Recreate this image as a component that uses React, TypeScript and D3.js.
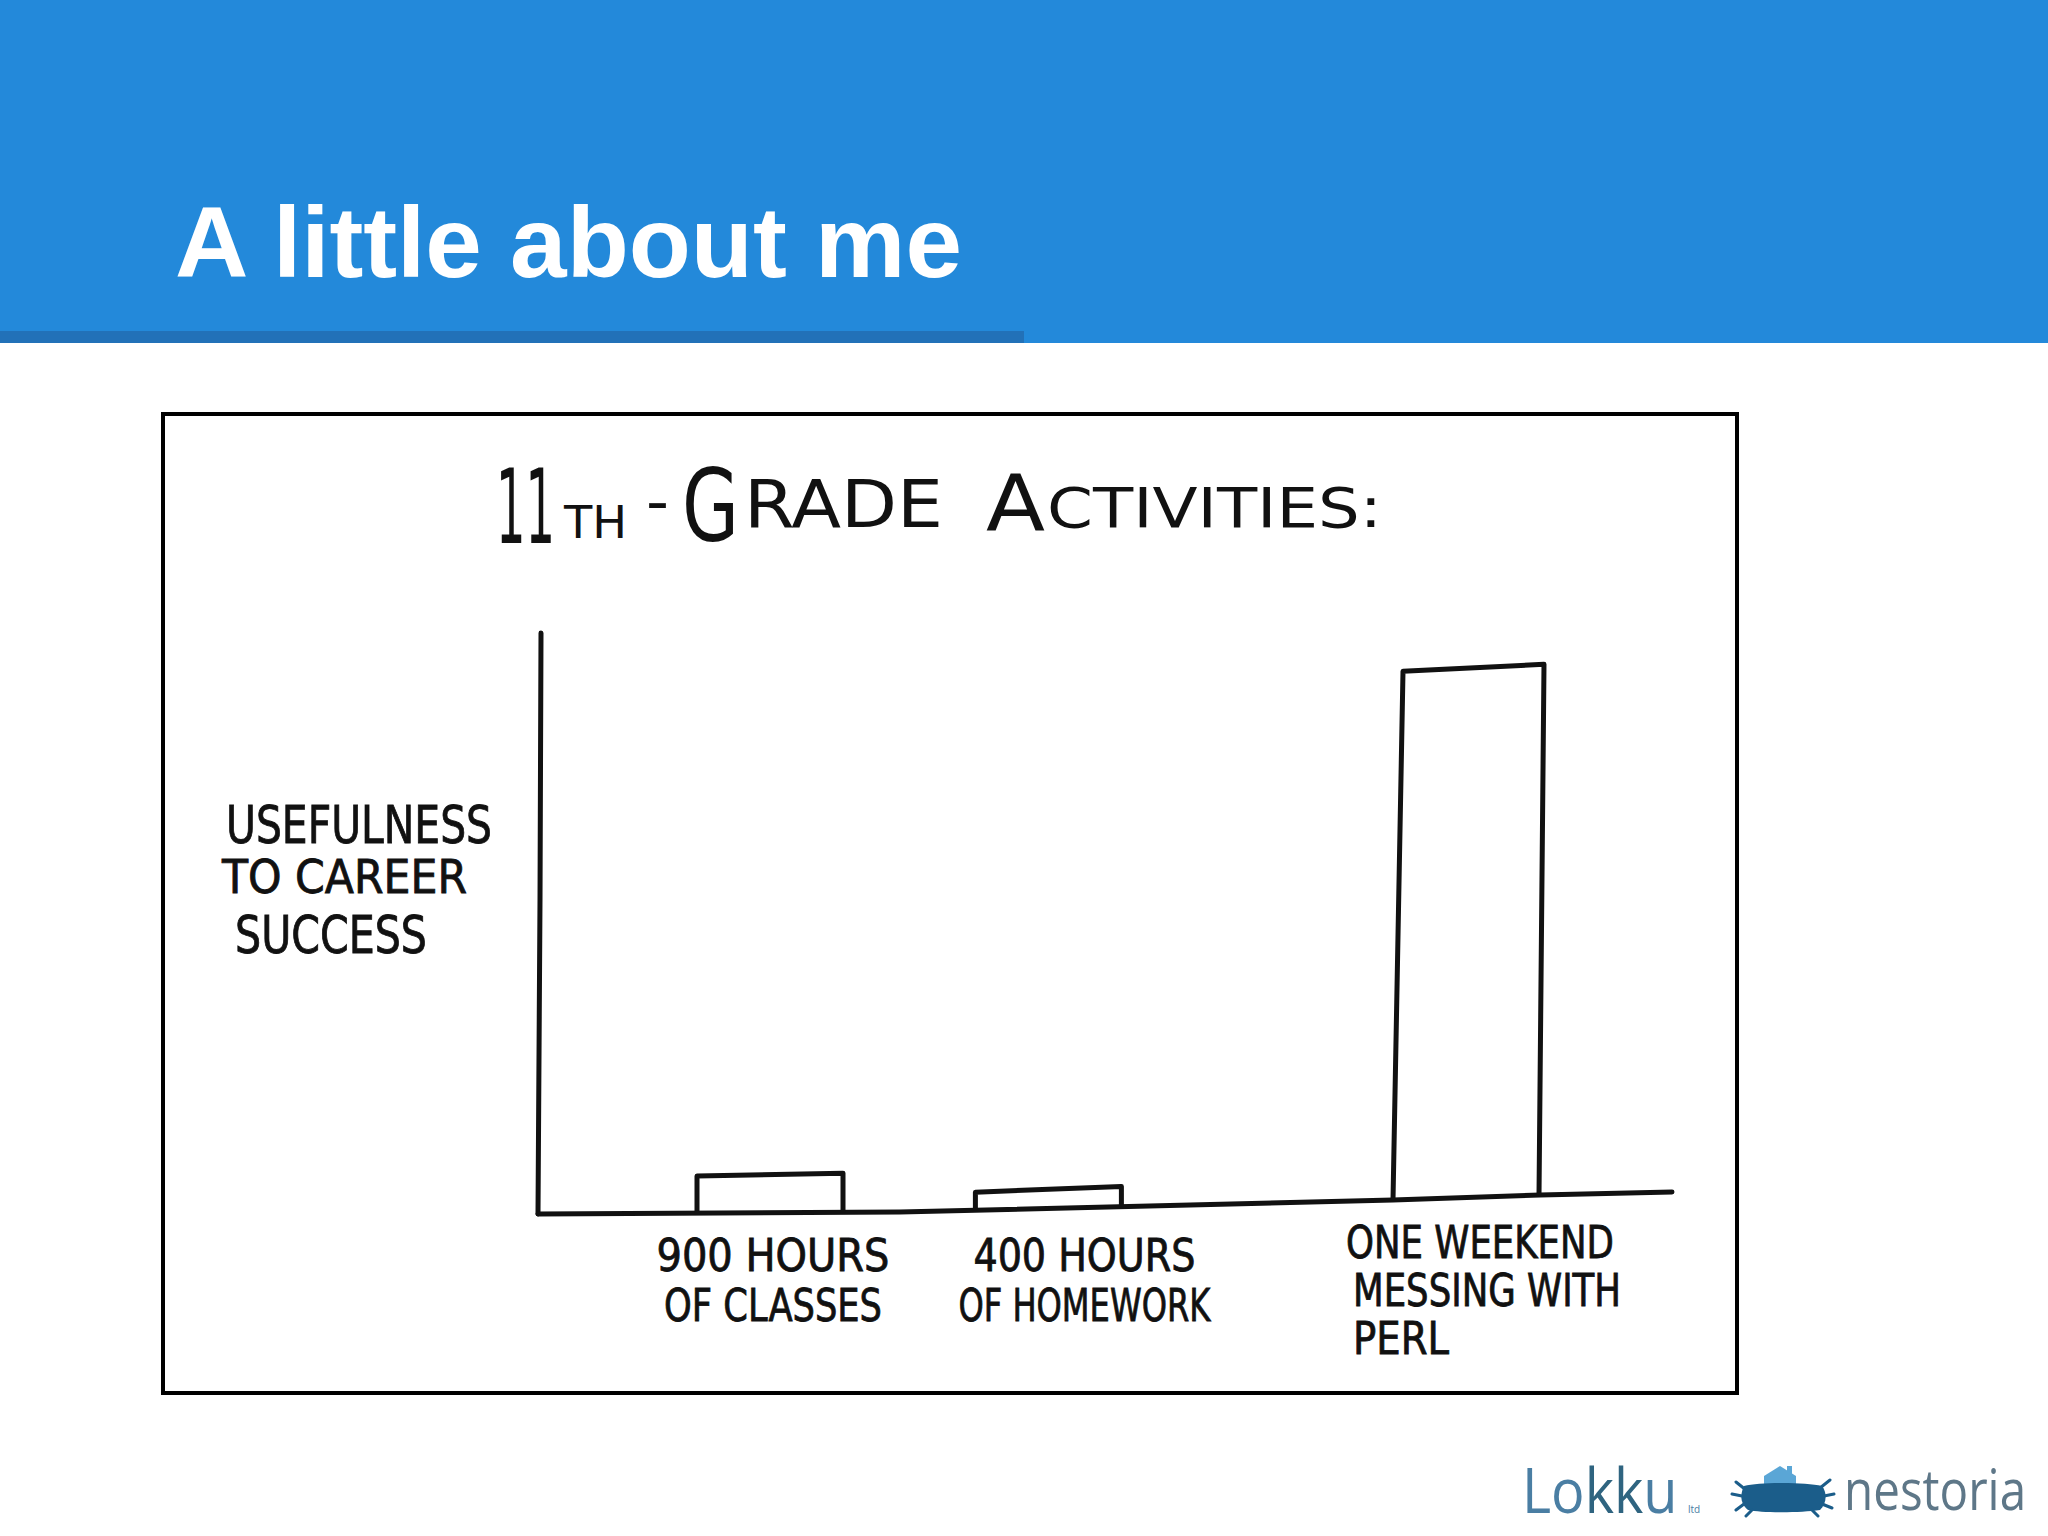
import React from "react";
import * as d3 from "d3";

// ---- data ----
const categories = [
  "900 HOURS OF CLASSES",
  "400 HOURS OF HOMEWORK",
  "ONE WEEKEND MESSING WITH PERL",
];
const categoryLines = [
  ["900 HOURS", "OF CLASSES"],
  ["400 HOURS", "OF HOMEWORK"],
  ["ONE WEEKEND", "MESSING WITH", "PERL"],
];
const usefulness = [6.4, 3.1, 91];
const yLabelLines = ["USEFULNESS", "TO CAREER", "SUCCESS"];
const slideTitle = "A little about me";
const chartTitleParts = ["11", "TH", "-", "G", "RADE", "A", "CTIVITIES:"];
// slot order along the hand-drawn x axis (blank slots are empty gaps)
const slots = [categories[0], "gap-a", categories[1], "gap-b", "gap-c", categories[2]];

// ---- styling (text placement for the hand-lettered look) ----
const titleStyle = [
  { x: 496, sx: 0.5, y: 543, s: 103 },
  { x: 564, sx: 1.0, y: 538, s: 44 },
  { x: 646, sx: 1.0, y: 522, s: 60 },
  { x: 682, sx: 0.75, y: 541, s: 100 },
  { x: 744, sx: 1.0, y: 527, s: 66 },
  { x: 986, sx: 1.0, y: 531, s: 78 },
  { x: 1047, sx: 1.0, y: 527, s: 56 },
];
const titleWidths = [59, 63, 23, 57, 199, 59, 335];
const labelWidths = [
  [233, 218],
  [222, 252],
  [268, 268, 96],
];
const labelOffsets = [3, 36, 14];
const yLabelWidths = [266, 245, 192];
const HAND = "'DejaVu Sans Condensed', 'Liberation Sans Narrow', 'Liberation Sans', sans-serif";

export default function App() {
  const x = d3.scalePoint<string>().domain(slots).range([770, 1466]);
  const barW = 146;
  const h = d3.scaleLinear().domain([0, 100]).range([0, 581]);
  const baseline = d3
    .scaleLinear()
    .domain([538, 900, 1393, 1540, 1672])
    .range([1214, 1212, 1200, 1195, 1192]);
  const line = d3.line<[number, number]>();

  const axisPts: [number, number][] = [538, 900, 1393, 1540, 1672].map((px) => [px, baseline(px)]);

  return (
    <svg
      width={2048}
      height={1536}
      style={{ position: "absolute", left: 0, top: 0, background: "#fff" }}
      xmlns="http://www.w3.org/2000/svg"
    >
      <rect x={0} y={0} width={2048} height={1536} fill="#ffffff" />
      {/* header */}
      <rect x={0} y={0} width={2048} height={343} fill="#2389da" />
      <rect x={0} y={331} width={1024} height={12} fill="#2271b8" />
      <text
        x={175}
        y={277}
        fill="#ffffff"
        fontFamily="'Liberation Sans', Arial, sans-serif"
        fontWeight="bold"
        fontSize={100}
        textLength={787}
        lengthAdjust="spacingAndGlyphs"
      >
        {slideTitle}
      </text>

      {/* frame */}
      <rect x={163} y={414} width={1574} height={979} fill="#fff" stroke="#000" strokeWidth={4} />

      {/* chart title */}
      {chartTitleParts.map((t, i) => (
        <g key={i} transform={`translate(${titleStyle[i].x},${titleStyle[i].y}) scale(${titleStyle[i].sx},1)`}>
          <text
            x={0}
            y={0}
            fontSize={titleStyle[i].s}
            fontFamily={HAND}
            fill="#111"
            textLength={titleWidths[i] / titleStyle[i].sx}
            lengthAdjust="spacingAndGlyphs"
          >
            {t}
          </text>
        </g>
      ))}

      {/* y label */}
      {yLabelLines.map((t, i) => (
        <text
          key={t}
          x={[226, 222, 235][i]}
          y={[843, 893, 953][i]}
          fontFamily={HAND}
          fontSize={[52, 46, 51][i]}
          fill="#111"
          stroke="#111"
          strokeWidth={0.8}
          textLength={yLabelWidths[i]}
          lengthAdjust="spacingAndGlyphs"
        >
          {t}
        </text>
      ))}

      {/* axes */}
      <path
        d={line([
          [541, 633],
          [540, 900],
          [538, 1214],
        ])!}
        fill="none"
        stroke="#111"
        strokeWidth={5}
        strokeLinecap="round"
      />
      <path
        d={line(axisPts)!}
        fill="none"
        stroke="#111"
        strokeWidth={5}
        strokeLinecap="round"
        strokeLinejoin="round"
      />

      {/* bars */}
      {categories.map((c, i) => {
        const cx = x(c)!;
        const x0 = cx - barW / 2;
        const x1 = cx + barW / 2;
        const b0 = baseline(x0);
        const b1 = baseline(x1);
        const hv = h(usefulness[i]);
        const lean = usefulness[i] > 50 ? 10 : 0;
        const pts: [number, number][] = [
          [x0, b0],
          [x0 + lean, b0 - hv],
          [x1 + lean / 2, b1 - hv - 2],
          [x1, b1],
        ];
        return (
          <path
            key={c}
            d={line(pts)!}
            fill="none"
            stroke="#111"
            strokeWidth={5}
            strokeLinejoin="round"
          />
        );
      })}

      {/* category labels */}
      {categories.map((c, i) => {
        const cx = x(c)! + labelOffsets[i];
        const lines = categoryLines[i];
        const firstBase = i === 2 ? 1258 : 1271;
        const step = i === 2 ? 48 : 50;
        return (
          <g key={c}>
            {lines.map((t, j) => {
              const w = labelWidths[i][j];
              const left = i === 2 && j > 0 ? cx - labelWidths[i][0] / 2 + 7 : cx - w / 2;
              return (
                <text
                  key={t}
                  x={left}
                  y={firstBase + j * step}
                  fontFamily={HAND}
                  fontSize={45}
                  fill="#111"
                  stroke="#111"
                  strokeWidth={0.8}
                  textLength={w}
                  lengthAdjust="spacingAndGlyphs"
                >
                  {t}
                </text>
              );
            })}
          </g>
        );
      })}

      {/* logos */}
      <g transform="translate(1522,1513) scale(0.9,1)">
        <text x={0} y={0} fontFamily="'Open Sans', 'Noto Sans', sans-serif" fontSize={62} fill="#4a7ea3">
          Lo<tspan fill="#2f6480">kk</tspan>u
        </text>
      </g>
      <text x={1688} y={1513} fontFamily="'Open Sans', sans-serif" fontSize={10} fill="#4a7ea3">
        ltd
      </text>
      <g>
        <path d="M1764,1486 L1764,1476 L1780,1466 L1796,1476 L1796,1486 Z" fill="#5aa6d6" />
        <rect x={1787} y={1466} width={5} height={8} fill="#5aa6d6" />
        <path
          d="M1744,1486 C1760,1482 1805,1482 1822,1486 C1828,1494 1826,1504 1820,1510 C1800,1513 1762,1513 1748,1510 C1740,1504 1740,1494 1744,1486 Z"
          fill="#1b5d8a"
        />
        <path
          d="M1746,1490 L1736,1482 M1742,1496 L1732,1494 M1744,1504 L1736,1510 M1752,1510 L1746,1516 M1820,1488 L1830,1480 M1824,1496 L1834,1494 M1822,1504 L1832,1508 M1812,1510 L1818,1516"
          stroke="#1b5d8a"
          strokeWidth={3}
          strokeLinecap="round"
        />
      </g>
      <g transform="translate(1844,1510) scale(0.85,1)">
        <text x={0} y={0} fontFamily="'Open Sans', 'Noto Sans', sans-serif" fontSize={56} fill="#5e7788">
          nestoria
        </text>
      </g>
    </svg>
  );
}
